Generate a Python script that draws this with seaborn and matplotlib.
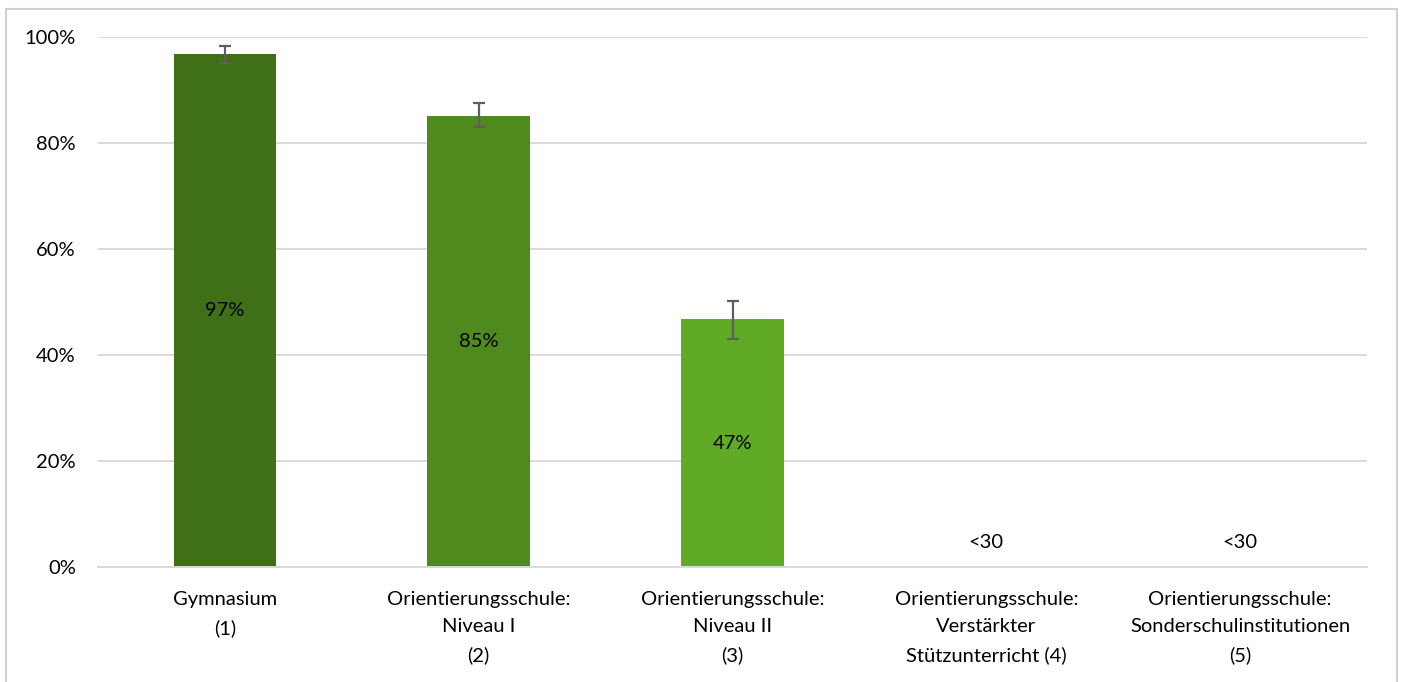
import matplotlib
matplotlib.use('Agg')
import matplotlib.pyplot as plt
import matplotlib.patches as mpatches
import seaborn as sns
import pandas as pd
import numpy as np

# data
categories = [
    "Gymnasium\n(1)",
    "Orientierungsschule:\nNiveau I\n(2)",
    "Orientierungsschule:\nNiveau II\n(3)",
    "Orientierungsschule:\nVerstärkter\nStützunterricht (4)",
    "Orientierungsschule:\nSonderschulinstitutionen\n(5)",
]
values = [96.8, 85.1, 46.7, np.nan, np.nan]
err_low = [1.7, 2.0, 3.6, np.nan, np.nan]
err_high = [1.5, 2.5, 3.5, np.nan, np.nan]
bar_labels = ["97%", "85%", "47%", "<30", "<30"]
bar_colors = ["#3F7018", "#4E8A1E", "#60AA25", "#60AA25", "#60AA25"]

df = pd.DataFrame({"Kategorie": categories, "Anteil": values})

sns.set_theme(style="white")
plt.rcParams['font.family'] = ['Lato', 'DejaVu Sans']

W, H = 1405, 682
fig = plt.figure(figsize=(W / 100, H / 100), dpi=100)
ax = fig.add_axes([98 / W, 1 - 567 / H, (1367 - 98) / W, (567 - 37) / H])

sns.barplot(data=df, x="Kategorie", y="Anteil", hue="Kategorie", order=categories,
            palette=dict(zip(categories, bar_colors)), legend=False,
            errorbar=None, width=0.405, saturation=1, linewidth=0, ax=ax)

x = np.arange(len(categories))
ax.errorbar(x, values, yerr=[err_low, err_high], fmt='none', ecolor='#5F5F5F',
            elinewidth=1.6, capsize=4.3, capthick=1.6, zorder=5)

fs = 14.5
for i, (v, lab) in enumerate(zip(values, bar_labels)):
    if np.isnan(v):
        ax.text(i, 4.7, lab, ha='center', va='center', fontsize=fs, color='black')
    else:
        ax.text(i, v / 2, lab, ha='center', va='center', fontsize=fs, color='black')

ax.set_ylim(0, 100)
ax.set_xlim(-0.5, len(categories) - 0.5)
ax.set_yticks(range(0, 101, 20))
ax.set_yticklabels([f"{t}%" for t in range(0, 101, 20)])
ax.set_xlabel("")
ax.set_ylabel("")
ax.grid(axis='y', color='#D9D9D9', linewidth=1.4)
ax.set_axisbelow(True)
for s in ['top', 'right', 'left']:
    ax.spines[s].set_visible(False)
ax.spines['bottom'].set_color('#D9D9D9')
ax.spines['bottom'].set_linewidth(1.4)
ax.tick_params(axis='y', length=0, pad=16, labelsize=fs, labelcolor='black')
ax.tick_params(axis='x', length=0, pad=17, labelsize=fs, labelcolor='black')
for t in ax.get_xticklabels():
    t.set_linespacing(1.75)

# chart border
border = mpatches.Rectangle((6 / W, -0.02), (1397 - 6) / W, 1 - 9 / H + 0.02,
                            transform=fig.transFigure, fill=False,
                            edgecolor='#D0D0D0', linewidth=1.5)
fig.patches.append(border)

fig.savefig("out.png", dpi=100)
